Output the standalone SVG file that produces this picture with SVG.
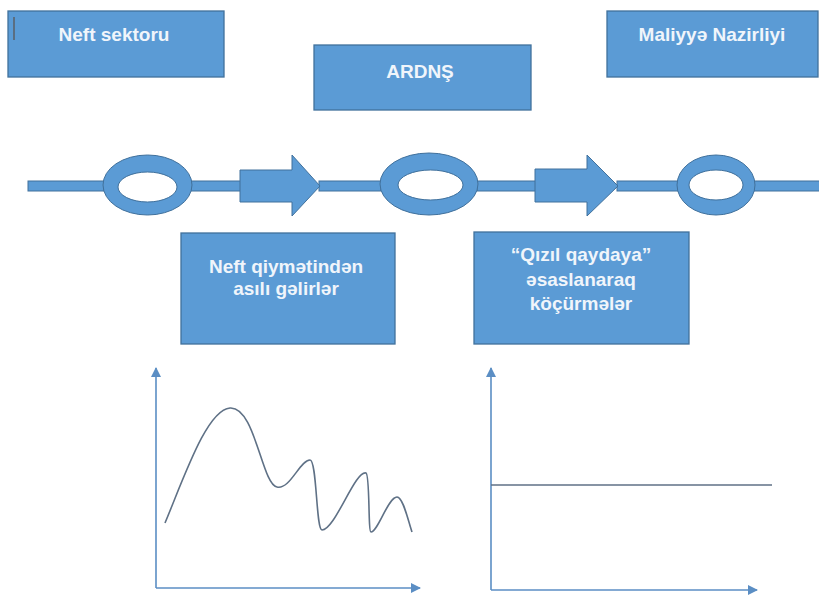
<svg xmlns="http://www.w3.org/2000/svg" width="819" height="597" viewBox="0 0 819 597">
<defs>
<style>
.box{fill:#5B9BD5;stroke:#41719C;stroke-width:1.3}
.shape{fill:#5B9BD5;stroke:#41719C;stroke-width:1}
.lbl{font-family:"Liberation Sans",Arial,sans-serif;font-size:19px;font-weight:bold;fill:#F0F5FB;text-anchor:middle}
.axis{stroke:#5B8EC4;stroke-width:1.6;fill:none}
.curve{stroke:#5F7186;stroke-width:1.6;fill:none}
</style>
<marker id="ah" viewBox="0 0 10 10" refX="9" refY="5" markerWidth="10" markerHeight="10" markerUnits="userSpaceOnUse" orient="auto">
<path d="M0,0 L10,5 L0,10 Z" fill="#5B8EC4"/>
</marker>
</defs>
<rect width="819" height="597" fill="#FFFFFF"/>

<g id="neft-sektoru">
<rect class="box" x="8" y="11" width="216" height="66"/>
<line x1="14" y1="17" x2="14" y2="40" stroke="#5a5f66" stroke-width="1.5"/>
<text class="lbl" x="114" y="41">Neft sektoru</text>
</g>
<g id="ardns">
<rect class="box" x="314" y="45" width="217" height="65"/>
<text class="lbl" x="420" y="78">ARDNŞ</text>
</g>
<g id="maliyye-nazirliyi">
<rect class="box" x="607" y="11" width="211" height="66"/>
<text class="lbl" x="712" y="41">Maliyyə Nazirliyi</text>
</g>

<g id="connectors">
<rect class="shape" x="28" y="181" width="76" height="10"/>
<rect class="shape" x="191" y="181" width="50" height="10"/>
<rect class="shape" x="319" y="181" width="62" height="10"/>
<rect class="shape" x="477" y="181" width="59" height="10"/>
<rect class="shape" x="617" y="181" width="61" height="10"/>
<rect class="shape" x="754" y="181" width="66" height="10"/>
</g>

<g id="ring-1">
<path class="shape" fill-rule="evenodd" d="M103,185 A44.5,30 0 1,0 192,185 A44.5,30 0 1,0 103,185 Z M118,187 A29.5,15 0 1,0 177,187 A29.5,15 0 1,0 118,187 Z"/>
</g>
<g id="arrow-1">
<path class="shape" d="M240,170 L292,170 L292,155 L320,186 L292,216 L292,202 L240,202 Z"/>
</g>
<g id="ring-2">
<path class="shape" fill-rule="evenodd" d="M380,184 A49,31 0 1,0 478,184 A49,31 0 1,0 380,184 Z M398,185 A32.5,15 0 1,0 463,185 A32.5,15 0 1,0 398,185 Z"/>
</g>
<g id="arrow-2">
<path class="shape" d="M535,169 L587,169 L587,155 L618,186 L587,216 L587,202 L535,202 Z"/>
</g>
<g id="ring-3">
<path class="shape" fill-rule="evenodd" d="M677,185 A39,30 0 1,0 755,185 A39,30 0 1,0 677,185 Z M689,185 A27,15 0 1,0 743,185 A27,15 0 1,0 689,185 Z"/>
</g>

<g id="neft-qiymetinden">
<rect class="box" x="181" y="233" width="214" height="111"/>
<text class="lbl" x="286" y="273">Neft qiymətindən</text>
<text class="lbl" x="286" y="295">asılı gəlirlər</text>
</g>
<g id="qizil-qayda">
<rect class="box" x="474" y="232" width="215" height="112"/>
<text class="lbl" x="581" y="261">“Qızıl qaydaya”</text>
<text class="lbl" x="581" y="286">əsaslanaraq</text>
<text class="lbl" x="581" y="310">köçürmələr</text>
</g>

<g id="chart-1">
<line class="axis" x1="156" y1="588" x2="156" y2="368" marker-end="url(#ah)"/>
<line class="axis" x1="156" y1="588" x2="420" y2="588" marker-end="url(#ah)"/>
<path class="curve" d="M165,523 C185,475 207,410 230,408 C255,406 262,485 277,487 C290,490 300,460 310,460 C317,460 316,530 322,530 C335,530 355,470 366,473 C370,475 368,532 371,532 C378,532 388,497 397,497 C403,497 408,520 412,532"/>
</g>
<g id="chart-2">
<line class="axis" x1="491" y1="590" x2="491" y2="368" marker-end="url(#ah)"/>
<line class="axis" x1="491" y1="590" x2="757" y2="590" marker-end="url(#ah)"/>
<line class="curve" x1="491" y1="485" x2="772" y2="485"/>
</g>
</svg>
